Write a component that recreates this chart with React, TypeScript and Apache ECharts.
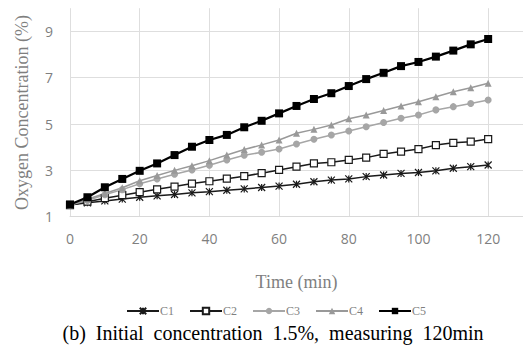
import React, { useEffect, useRef } from "react";
import * as echarts from "echarts";

const times = [0, 5, 10, 15, 20, 25, 30, 35, 40, 45, 50, 55, 60, 65, 70, 75, 80, 85, 90, 95, 100, 105, 110, 115, 120];
const c1 = [1.5, 1.6, 1.68, 1.76, 1.84, 1.9, 1.96, 2.03, 2.08, 2.14, 2.2, 2.26, 2.32, 2.4, 2.51, 2.58, 2.63, 2.73, 2.8, 2.87, 2.91, 2.98, 3.09, 3.16, 3.23];
const c2 = [1.5, 1.65, 1.8, 1.93, 2.06, 2.18, 2.3, 2.43, 2.53, 2.64, 2.75, 2.88, 3.02, 3.16, 3.3, 3.35, 3.45, 3.55, 3.71, 3.81, 3.92, 4.09, 4.19, 4.24, 4.35];
const c3 = [1.5, 1.7, 1.95, 2.17, 2.42, 2.63, 2.83, 3.02, 3.22, 3.45, 3.65, 3.78, 3.92, 4.14, 4.34, 4.53, 4.7, 4.88, 5.07, 5.25, 5.39, 5.61, 5.75, 5.89, 6.04];
const c4 = [1.5, 1.75, 2.0, 2.25, 2.55, 2.78, 3.0, 3.2, 3.42, 3.66, 3.9, 4.1, 4.31, 4.6, 4.77, 4.96, 5.23, 5.39, 5.58, 5.78, 5.96, 6.18, 6.39, 6.57, 6.76];
const c5 = [1.53, 1.84, 2.27, 2.63, 2.98, 3.3, 3.66, 4.02, 4.31, 4.53, 4.86, 5.14, 5.46, 5.78, 6.08, 6.33, 6.64, 6.94, 7.21, 7.5, 7.68, 7.91, 8.17, 8.44, 8.67];
const seriesNames = ["C1", "C2", "C3", "C4", "C5"];
const caption = "(b)  Initial  concentration  1.5%,  measuring  120min";
const xTitle = "Time (min)";
const yTitle = "Oxygen Concentration (%)";

const pair = (ys: number[]) => times.map((t, i) => [t, ys[i]]);

export default function App() {
  const ref = useRef<HTMLDivElement>(null);
  useEffect(() => {
    document.body.style.margin = "0";
    const chart = echarts.init(ref.current!, undefined, { renderer: "svg" });
    const serif = "'Liberation Serif', 'Times New Roman', serif";
    const sans = "'Open Sans', 'Noto Sans', sans-serif";
    const mk = (
      name: string,
      ys: number[],
      color: string,
      symbol: string,
      size: number,
      width: number,
      itemStyle: any
    ) => ({
      name,
      type: "line",
      data: pair(ys),
      symbol,
      symbolSize: size,
      lineStyle: { color, width },
      itemStyle,
      z: 2,
    });
    chart.setOption({
      animation: false,
      grid: { left: 70, top: 8.2, width: 455, height: 208.5 },
      title: {
        text: caption,
        left: 273,
        textAlign: "center",
        top: 323,
        padding: 0,
        textStyle: { fontFamily: serif, fontSize: 20, fontWeight: "normal", color: "#000" },
      },
      legend: {
        data: seriesNames,
        top: 300,
        left: 121,
        itemWidth: 32,
        itemHeight: 8,
        itemGap: 15,
        textStyle: { fontFamily: serif, fontSize: 12, color: "#7f7f7f", padding: [0, 0, 0, -4] },
      },
      xAxis: {
        type: "value",
        min: 0,
        max: 130,
        interval: 20,
        name: xTitle,
        nameLocation: "middle",
        nameGap: 56,
        nameTextStyle: { fontFamily: serif, fontSize: 18, color: "#7f7f7f" },
        axisLine: { show: true, lineStyle: { color: "#d9d9d9", width: 1 } },
        axisTick: { show: false },
        axisLabel: { showMaxLabel: false, margin: 15, fontFamily: sans, fontSize: 14, color: "#7f7f7f" },
        splitLine: { show: true, showMaxLine: false, lineStyle: { color: "#dedede", width: 1 } },
      },
      yAxis: {
        type: "value",
        min: 1,
        max: 10,
        interval: 2,
        name: yTitle,
        nameLocation: "middle",
        nameGap: 39,
        nameTextStyle: { fontFamily: serif, fontSize: 18, color: "#7f7f7f" },
        axisLine: { show: false },
        axisTick: { show: false },
        axisLabel: { showMaxLabel: false, margin: 17, fontFamily: sans, fontSize: 14, color: "#7f7f7f" },
        splitLine: { show: true, showMinLine: false, showMaxLine: false, lineStyle: { color: "#dedede", width: 1 } },
      },
      series: [
        mk("C1", c1, "#1a1a1a", "path://M0,0L10,10M10,0L0,10M5,0L5,10", 7, 1.5, {
          color: "#1a1a1a",
          borderColor: "#1a1a1a",
          borderWidth: 1.2,
        }),
        mk("C2", c2, "#1a1a1a", "rect", 7, 1.5, {
          color: "#fff",
          borderColor: "#1a1a1a",
          borderWidth: 1.2,
        }),
        mk("C3", c3, "#a6a6a6", "circle", 7, 1.5, { color: "#a6a6a6", borderWidth: 0 }),
        mk("C4", c4, "#999999", "triangle", 7, 1.5, { color: "#999999", borderWidth: 0 }),
        mk("C5", c5, "#000000", "rect", 8, 2.2, { color: "#000", borderWidth: 0 }),
      ],
    });
    return () => chart.dispose();
  }, []);
  return <div ref={ref} style={{ width: 523, height: 345 }} />;
}
